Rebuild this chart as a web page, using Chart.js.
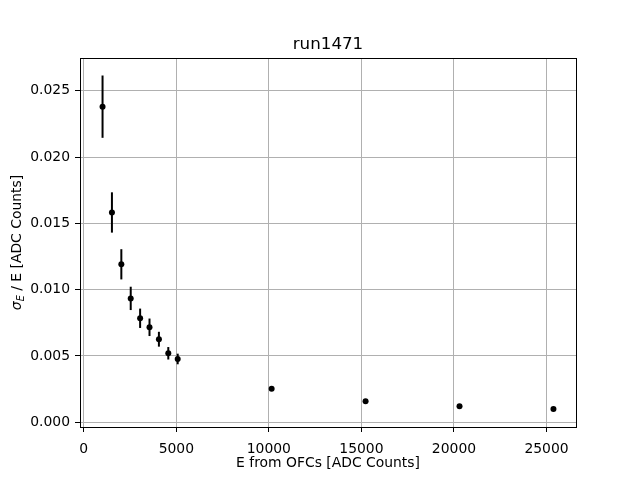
<!DOCTYPE html>
<html>
<head>
<meta charset="utf-8">
<script src="https://cdn.jsdelivr.net/npm/chart.js@4/dist/chart.umd.min.js"></script>
<style>
html,body{margin:0;padding:0;background:#fff;}
#wrap{width:640px;height:480px;}
</style>
</head>
<body>
<div id="wrap"><canvas id="c" width="640" height="480"></canvas></div>
<script>
// ---- data ----
const energies = [1015, 1522, 2030, 2537, 3045, 3552, 4060, 4567, 5075, 10150, 15225, 20300, 25375];
const resolution = [0.02380, 0.01582, 0.01191, 0.00934, 0.00784, 0.00716, 0.00626, 0.00520, 0.00477, 0.00252, 0.00159, 0.00121, 0.00099];
const resolutionErr = [0.00235, 0.00152, 0.00114, 0.00088, 0.00073, 0.00066, 0.00056, 0.00047, 0.00040, 0.00010, 0.00007, 0.00005, 0.00004];
const xTicks = [0, 5000, 10000, 15000, 20000, 25000];
const yTicks = [0.000, 0.005, 0.010, 0.015, 0.020, 0.025];
const titleText = "run1471";
const xLabel = "E from OFCs [ADC Counts]";

const FONT = "'DejaVu Sans', sans-serif";

const points = energies.map((e, i) => ({x: e, y: resolution[i]}));

const errorBars = {
  id: 'errorBars',
  beforeDatasetsDraw(chart) {
    const ctx = chart.ctx;
    const xs = chart.scales.x, ys = chart.scales.y;
    ctx.save();
    ctx.strokeStyle = '#000';
    ctx.lineWidth = 2;
    ctx.lineCap = 'butt';
    energies.forEach((e, i) => {
      const px = xs.getPixelForValue(e);
      const y1 = ys.getPixelForValue(resolution[i] - resolutionErr[i]);
      const y2 = ys.getPixelForValue(resolution[i] + resolutionErr[i]);
      ctx.beginPath();
      ctx.moveTo(px, y1);
      ctx.lineTo(px, y2);
      ctx.stroke();
    });
    ctx.restore();
  }
};

const decor = {
  id: 'decor',
  afterDraw(chart) {
    const ctx = chart.ctx;
    const a = chart.chartArea;
    ctx.save();
    ctx.strokeStyle = '#000';
    ctx.lineWidth = 1;
    ctx.strokeRect(Math.round(a.left) + 0.5, Math.round(a.top) + 0.5,
                   Math.round(a.right - a.left), Math.round(a.bottom - a.top));
    const cx = (a.left + a.right) / 2;
    ctx.fillStyle = '#000';
    ctx.textAlign = 'center';
    ctx.textBaseline = 'alphabetic';
    ctx.font = "16.7px " + FONT;
    ctx.fillText(titleText, cx, a.top - 9);
    ctx.font = "13.9px " + FONT;
    ctx.fillText(xLabel, cx, 467);
    const cy = (a.top + a.bottom) / 2;
    ctx.translate(21, cy);
    ctx.rotate(-Math.PI / 2);
    ctx.textAlign = 'left';
    const fMain = "13.9px " + FONT;
    const fSig = "italic 13.9px " + FONT;
    const fSub = "italic 9.7px " + FONT;
    const rest = " / E [ADC Counts]";
    ctx.font = fSig; const wS = ctx.measureText('σ').width;
    ctx.font = fSub; const wE = ctx.measureText('E').width;
    ctx.font = fMain; const wR = ctx.measureText(rest).width;
    let x0 = -(wS + wE + wR) / 2;
    ctx.font = fSig; ctx.fillText('σ', x0, 0); x0 += wS;
    ctx.font = fSub; ctx.fillText('E', x0, 2.5); x0 += wE;
    ctx.font = fMain; ctx.fillText(rest, x0, 0);
    ctx.restore();
  }
};

new Chart(document.getElementById('c'), {
  type: 'scatter',
  data: {
    datasets: [{
      data: points,
      pointRadius: 3,
      pointHoverRadius: 3,
      pointBackgroundColor: '#000',
      pointBorderColor: '#000',
      pointBorderWidth: 0,
      showLine: false
    }]
  },
  options: {
    responsive: false,
    animation: false,
    devicePixelRatio: 1,
    layout: {padding: {left: 0, right: 64, top: 58, bottom: 0}},
    plugins: {legend: {display: false}, tooltip: {enabled: false}, title: {display: false}},
    scales: {
      x: {
        type: 'linear',
        min: -203, max: 26593,
        afterBuildTicks: (s) => { s.ticks = xTicks.map(v => ({value: v})); },
        afterFit: (s) => { s.height = 53; },
        grid: {color: '#b0b0b0', lineWidth: 1, tickColor: '#000', tickLength: 5, drawTicks: true},
        border: {display: true, color: '#000', width: 1},
        ticks: {color: '#000', padding: 9, maxRotation: 0, autoSkip: false,
                font: {family: FONT, size: 13.9},
                callback: (v) => String(v)}
      },
      y: {
        type: 'linear',
        min: -0.00036, max: 0.02747,
        afterBuildTicks: (s) => { s.ticks = yTicks.map(v => ({value: v})); },
        afterFit: (s) => { s.width = 80; },
        grid: {color: '#b0b0b0', lineWidth: 1, tickColor: '#000', tickLength: 5, drawTicks: true},
        border: {display: true, color: '#000', width: 1},
        ticks: {color: '#000', padding: 5, autoSkip: false,
                font: {family: FONT, size: 13.9},
                callback: (v) => Number(v).toFixed(3)}
      }
    }
  },
  plugins: [errorBars, decor]
});
</script>
</body>
</html>
